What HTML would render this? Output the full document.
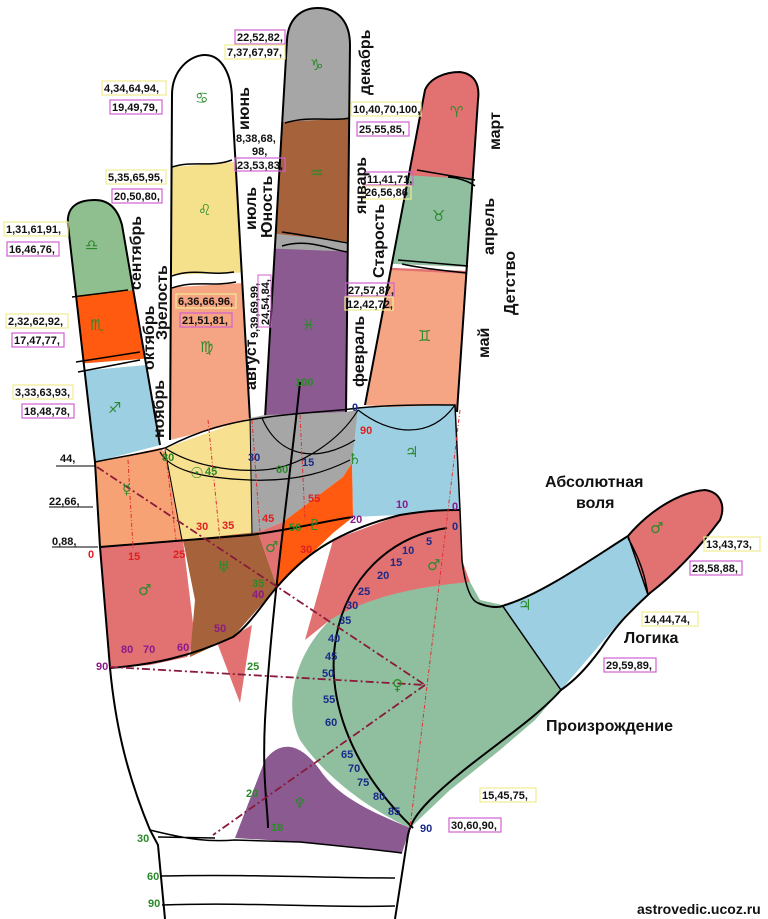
<!DOCTYPE html>
<html><head><meta charset="utf-8"><style>
body{margin:0;background:#fff}
svg{display:block}
text{font-family:"Liberation Sans",sans-serif}
.b{font-weight:bold;font-size:11px;fill:#111}
.m{font-weight:bold;font-size:16px;fill:#111}
text.g{fill:#2a8a2a;font-size:15px;font-family:"DejaVu Sans",sans-serif}
.r{fill:#e02020;font-size:11px;font-weight:bold}
.bl{fill:#1a2a8a;font-size:11px;font-weight:bold}
.pu{fill:#8a1a8a;font-size:11px;font-weight:bold}
.gn{fill:#2a8a2a;font-size:11px;font-weight:bold}
</style></head><body>
<svg width="768" height="919" viewBox="0 0 768 919" xmlns="http://www.w3.org/2000/svg">
<defs>
<clipPath id="cl"><path d="M95,462 L68,225 C66,205 80,200 95,200 C110,200 118,210 122,225 L160,445 Z"/></clipPath>
<clipPath id="cr"><path d="M170,440 L172,95 C172,70 190,55 205,55 C222,55 232,75 232,100 L250,420 Z"/></clipPath>
<clipPath id="cm"><path d="M265,418 L287,40 C288,20 300,8 318,8 C338,8 350,22 350,45 L346,412 Z"/></clipPath>
<clipPath id="ci"><path d="M365,405 L425,90 C430,78 445,72 460,72 C475,74 480,85 478,100 L457,412 Z"/></clipPath>
</defs>
<g clip-path="url(#cl)">
<rect x="50" y="190" width="130" height="300" fill="#8fbf8f"/>
<polygon points="50,298 180,286 180,356 50,366" fill="#ff5a10"/>
<polygon points="50,366 180,356 180,362 50,374" fill="#fff"/>
<polygon points="50,374 180,362 180,470 50,470" fill="#9dcfe2"/>
</g>
<path d="M95,462 L68,225 C66,205 80,200 95,200 C110,200 118,210 122,225 L160,445" fill="none" stroke="#000" stroke-width="2"/>
<path d="M72,297 L128,290 M76,362 L140,352 M78,372 L140,360" stroke="#000" stroke-width="1.5"/>
<g clip-path="url(#cr)">
<rect x="160" y="50" width="100" height="400" fill="#fff"/>
<polygon points="160,168 260,160 260,272 160,275" fill="#f5e08c"/>
<polygon points="160,288 260,282 260,450 160,450" fill="#f6a584"/>
</g>
<path d="M170,440 L172,95 C172,70 190,55 205,55 C222,55 232,75 232,100 L250,420" fill="none" stroke="#000" stroke-width="2"/>
<path d="M172,167 C195,160 210,168 232,160 M172,276 C195,268 210,276 234,272 M172,288 C195,280 210,287 236,282" stroke="#000" stroke-width="1.5" fill="none"/>
<g clip-path="url(#cm)">
<rect x="260" y="0" width="100" height="430" fill="#a6a6a6"/>
<polygon points="260,123 360,118 360,243 260,232" fill="#a6623a"/>
<polygon points="260,248 360,252 360,430 260,430" fill="#8a5a90"/>
</g>
<path d="M265,418 L287,40 C288,20 300,8 318,8 C338,8 350,22 350,45 L346,412" fill="none" stroke="#000" stroke-width="2"/>
<path d="M285,123 C310,115 330,122 350,118 M282,232 C310,236 330,240 348,243 M282,246 C310,238 330,250 348,252" stroke="#000" stroke-width="1.5" fill="none"/>
<g clip-path="url(#ci)">
<rect x="350" y="60" width="140" height="360" fill="#e27272"/>
<polygon points="350,172 490,180 490,268 350,262" fill="#8fbf9f"/>
<polygon points="350,262 490,268 490,272 350,266" fill="#fff"/>
<polygon points="350,268 490,275 490,420 350,420" fill="#f6a584"/>
</g>
<path d="M365,405 L425,90 C430,78 445,72 460,72 C475,74 480,85 478,100 L457,412" fill="none" stroke="#000" stroke-width="2"/>
<path d="M417,170 L475,180 M448,177 C460,178 470,182 475,186 M398,260 L468,266 M402,264 C420,268 440,270 466,273" stroke="#000" stroke-width="1.5" fill="none"/>
<polygon points="95,462 160,448 168,455 182,540 100,547" fill="#f7a274"/>
<polygon points="165,448 250,418 252,535 182,540" fill="#f7e090"/>
<polygon points="250,418 265,415 345,412 358,410 352,463 343,477 283,522 258,532 252,535" fill="#a6a6a6"/>
<polygon points="358,408 455,405 460,510 447,510 400,515 353,517 352,463" fill="#9dcfe2"/>
<polygon points="352,463 353,517 333,533 277,587 283,522 343,477" fill="#ff5a10"/>
<polygon points="333,540 400,515 447,510 460,510 462,560 470,582 330,620 305,640" fill="#e27272"/>
<polygon points="100,547 183,540 195,640 187,657 150,665 110,668" fill="#e27272"/>
<polygon points="183,540 258,532 277,587 233,637 190,657 195,600" fill="#a6623a"/>
<polygon points="258,532 283,522 277,587" fill="#e27272"/>
<polygon points="218,645 240,703 252,625" fill="#e27272"/>
<path d="M330,620 C380,590 440,585 470,582 L480,600 L502,605 L561,690 L535,720 L500,750 L450,790 L410,828 C360,805 320,770 300,740 C285,710 290,660 330,620 Z" fill="#8fbf9f"/>
<path d="M235,838 L265,760 C280,740 300,742 320,770 C340,800 380,815 410,828 L402,853 L300,842 Z" fill="#8a5a90"/>
<path d="M502,605 C540,595 590,560 628,536 L648,595 L628,612 L561,690 Z" fill="#9dcfe2"/>
<path d="M628,536 C650,510 680,492 705,490 C720,492 726,505 720,520 C705,540 680,570 648,595 Z" fill="#e27272"/>
<path d="M478,603 C490,608 500,608 505,605 C540,595 590,560 628,536 C650,510 680,492 705,490 C720,492 726,505 720,520 C705,540 680,570 650,593 C630,612 620,620 600,650 C585,670 575,680 561,690 C530,725 470,760 430,800 C415,815 410,825 408,835 L395,919" fill="none" stroke="#000" stroke-width="2"/>
<path d="M628,536 L648,595 M628,538 C640,560 645,575 648,595 M502,605 L561,690" stroke="#000" stroke-width="1.5" fill="none"/>
<path d="M95,462 L100,547 L110,668 C115,720 125,770 150,830 L158,845 L165,919" fill="none" stroke="#000" stroke-width="2"/>
<path d="M95,462 C130,455 150,452 165,448 M165,448 C200,430 230,422 262,418 M262,418 C300,412 330,412 358,408 M358,408 C400,404 440,405 455,405 L460,510 L462,560 C465,585 470,600 478,603" fill="none" stroke="#000" stroke-width="1.5"/>
<path d="M100,547 L250,535 C290,530 330,520 353,517 M277,587 C300,560 330,533 400,515 C430,510 447,510 460,510" fill="none" stroke="#000" stroke-width="2"/>
<path d="M110,668 C150,665 190,657 233,637 C250,625 265,600 277,587" fill="none" stroke="#000" stroke-width="2"/>
<path d="M165,448 C190,465 230,472 262,470 C300,468 340,440 358,410 M262,418 C280,460 320,462 355,440 M160,452 C170,470 200,478 250,480 C300,482 330,470 350,460 M358,410 C390,435 430,440 455,405" fill="none" stroke="#000" stroke-width="1.2"/>
<path d="M182,540 L165,450 M250,418 L252,535" stroke="#000" stroke-width="1" fill="none"/>
<path d="M150,830 C190,840 210,842 235,840 L300,842 C340,846 380,850 402,853 M158,837 L215,838 M160,876 C250,874 330,878 395,878 M162,905 C250,902 330,908 395,906" fill="none" stroke="#000" stroke-width="1.5"/>
<path d="M447,528 C330,545 280,700 413,828" fill="none" stroke="#000" stroke-width="2"/>
<path d="M300,382 C290,480 272,600 265,720 C262,780 268,810 268,828" fill="none" stroke="#000" stroke-width="2"/>
<g stroke="#8a1a3a" stroke-width="1.8" stroke-dasharray="8,3,2,3" fill="none">
<path d="M97,467 L425,685 M110,667 L425,685 M425,685 L213,835"/>
</g>
<g stroke="#e03030" stroke-width="1" stroke-dasharray="4,2,1,2" fill="none">
<path d="M128,460 L133,548 M165,448 L176,540 M208,420 L220,540 M252,420 L260,532 M300,415 L305,520 M460,410 L410,828"/>
</g>
<text x="85" y="250" class="g">&#x264E;&#xFE0E;</text><text x="90" y="330" class="g">&#x264F;&#xFE0E;</text><text x="108" y="413" class="g">&#x2650;&#xFE0E;</text>
<text x="195" y="103" class="g">&#x264B;&#xFE0E;</text><text x="198" y="215" class="g">&#x264C;&#xFE0E;</text><text x="200" y="352" class="g">&#x264D;&#xFE0E;</text>
<text x="310" y="70" class="g">&#x2651;&#xFE0E;</text><text x="310" y="178" class="g">&#x2652;&#xFE0E;</text><text x="302" y="330" class="g">&#x2653;&#xFE0E;</text>
<text x="450" y="117" class="g">&#x2648;&#xFE0E;</text><text x="432" y="221" class="g">&#x2649;&#xFE0E;</text><text x="418" y="341" class="g">&#x264A;&#xFE0E;</text>
<text x="405" y="457" class="g">&#x2643;</text><text x="348" y="464" class="g">&#x2644;</text><text x="190" y="478" class="g">&#x2609;</text>
<text x="122" y="494" class="g">&#x263F;</text><text x="308" y="530" class="g">&#x2647;</text><text x="265" y="552" class="g">&#x2642;</text>
<text x="138" y="595" class="g">&#x2642;</text><text x="217" y="572" class="g">&#x2645;</text><text x="427" y="570" class="g">&#x2642;</text>
<text x="392" y="690" class="g">&#x2640;</text><text x="293" y="808" class="g">&#x2646;</text><text x="518" y="610" class="g">&#x2643;</text><text x="650" y="533" class="g">&#x2642;</text>
<text x="162" y="461" class="gn">80</text><text x="205" y="475" class="gn">45</text><text x="248" y="461" class="bl">30</text>
<text x="276" y="473" class="gn">60</text><text x="302" y="466" class="bl">15</text><text x="360" y="434" class="r">90</text>
<text x="352" y="411" class="bl">0</text><text x="295" y="386" class="gn">100</text>
<text x="196" y="530" class="r">30</text><text x="222" y="529" class="r">35</text><text x="262" y="522" class="r">45</text><text x="308" y="502" class="r">55</text>
<text x="289" y="531" class="gn">56</text><text x="350" y="523" class="pu">20</text><text x="396" y="508" class="pu">10</text>
<text x="452" y="510" class="pu">0</text><text x="452" y="530" class="bl">0</text><text x="300" y="553" class="r">30</text>
<text x="88" y="558" class="r">0</text><text x="128" y="560" class="r">15</text><text x="173" y="558" class="r">25</text>
<text x="252" y="587" class="gn">35</text><text x="252" y="598" class="pu">40</text><text x="214" y="632" class="pu">50</text>
<text x="177" y="651" class="pu">60</text><text x="143" y="653" class="pu">70</text><text x="121" y="653" class="pu">80</text>
<text x="96" y="670" class="pu">90</text><text x="247" y="670" class="gn">25</text><text x="246" y="797" class="gn">20</text><text x="271" y="831" class="gn">18</text>
<text x="137" y="842" class="gn">30</text><text x="147" y="880" class="gn">60</text><text x="148" y="907" class="gn">90</text>
<text x="426" y="545" class="bl">5</text><text x="402" y="554" class="bl">10</text><text x="390" y="566" class="bl">15</text>
<text x="377" y="579" class="bl">20</text><text x="358" y="595" class="bl">25</text><text x="346" y="609" class="bl">30</text>
<text x="339" y="624" class="bl">35</text><text x="328" y="642" class="bl">40</text><text x="325" y="660" class="bl">45</text>
<text x="322" y="677" class="bl">50</text><text x="323" y="703" class="bl">55</text><text x="325" y="726" class="bl">60</text>
<text x="341" y="758" class="bl">65</text><text x="348" y="772" class="bl">70</text><text x="357" y="786" class="bl">75</text>
<text x="373" y="800" class="bl">80</text><text x="388" y="815" class="bl">85</text><text x="420" y="832" class="bl">90</text>
<text x="60" y="462" class="b">44,</text><line x1="56" y1="466" x2="96" y2="466" stroke="#000"/>
<text x="49" y="505" class="b">22,66,</text><line x1="49" y1="507" x2="93" y2="507" stroke="#000"/>
<text x="52" y="545" class="b">0,88,</text><line x1="52" y1="547" x2="98" y2="547" stroke="#000"/>
<g fill="none" stroke-width="1.2">
<rect x="4" y="222" width="64" height="14" stroke="#f0ec90"/><rect x="7" y="242" width="52" height="14" stroke="#d060d0"/>
<rect x="6" y="314" width="62" height="14" stroke="#f0ec90"/><rect x="12" y="333" width="52" height="14" stroke="#d060d0"/>
<rect x="13" y="385" width="60" height="14" stroke="#f0ec90"/><rect x="22" y="404" width="52" height="14" stroke="#d060d0"/>
<rect x="102" y="81" width="64" height="14" stroke="#f0ec90"/><rect x="110" y="100" width="52" height="14" stroke="#d060d0"/>
<rect x="106" y="170" width="60" height="14" stroke="#f0ec90"/><rect x="112" y="189" width="50" height="14" stroke="#d060d0"/>
<rect x="176" y="294" width="60" height="14" stroke="#f0ec90"/><rect x="180" y="313" width="52" height="14" stroke="#d060d0"/>
<rect x="235" y="30" width="50" height="14" stroke="#d060d0"/><rect x="225" y="45" width="60" height="14" stroke="#f0ec90"/>
<rect x="235" y="158" width="50" height="13" stroke="#d060d0"/>
<rect x="351" y="102" width="70" height="14" stroke="#f0ec90"/><rect x="357" y="122" width="52" height="14" stroke="#d060d0"/>
<rect x="365" y="172" width="48" height="13" stroke="#d060d0"/><rect x="363" y="186" width="48" height="13" stroke="#f0ec90"/>
<rect x="346" y="283" width="48" height="13" stroke="#d060d0"/><rect x="345" y="297" width="48" height="13" stroke="#f0ec90"/>
<rect x="704" y="537" width="56" height="14" stroke="#f0ec90"/><rect x="690" y="561" width="52" height="14" stroke="#d060d0"/>
<rect x="642" y="612" width="56" height="14" stroke="#f0ec90"/><rect x="604" y="658" width="52" height="14" stroke="#d060d0"/>
<rect x="480" y="788" width="56" height="14" stroke="#f0ec90"/><rect x="449" y="818" width="52" height="14" stroke="#d060d0"/>
</g>
<text x="6" y="233" class="b">1,31,61,91,</text><text x="9" y="253" class="b">16,46,76,</text>
<text x="8" y="325" class="b">2,32,62,92,</text><text x="14" y="344" class="b">17,47,77,</text>
<text x="15" y="396" class="b">3,33,63,93,</text><text x="24" y="415" class="b">18,48,78,</text>
<text x="104" y="92" class="b">4,34,64,94,</text><text x="112" y="111" class="b">19,49,79,</text>
<text x="108" y="181" class="b">5,35,65,95,</text><text x="114" y="200" class="b">20,50,80,</text>
<text x="178" y="305" class="b">6,36,66,96,</text><text x="182" y="324" class="b">21,51,81,</text>
<text x="237" y="41" class="b">22,52,82,</text><text x="227" y="56" class="b">7,37,67,97,</text>
<text x="236" y="142" class="b">8,38,68,</text><text x="252" y="155" class="b">98,</text><text x="237" y="169" class="b">23,53,83,</text>
<text x="353" y="113" class="b">10,40,70,100,</text><text x="359" y="133" class="b">25,55,85,</text>
<text x="367" y="183" class="b">11,41,71,</text><text x="365" y="196" class="b">26,56,86</text>
<text x="348" y="294" class="b">27,57,87,</text><text x="347" y="308" class="b">12,42,72,</text>
<text x="706" y="548" class="b">13,43,73,</text><text x="692" y="572" class="b">28,58,88,</text>
<text x="644" y="623" class="b">14,44,74,</text><text x="606" y="669" class="b">29,59,89,</text>
<text x="482" y="799" class="b">15,45,75,</text><text x="451" y="829" class="b">30,60,90,</text>
<text transform="translate(258,338) rotate(-90)" class="b" font-size="10">9,39,69,99,</text>
<rect x="258" y="275" width="13" height="52" fill="none" stroke="#d060d0"/>
<text transform="translate(269,325) rotate(-90)" class="b" font-size="10">24,54,84,</text>
<text transform="translate(141,290) rotate(-90)" class="m">сентябрь</text>
<text transform="translate(154,370) rotate(-90)" class="m">октябрь</text>
<text transform="translate(167,340) rotate(-90)" class="m">Зрелость</text>
<text transform="translate(164,438) rotate(-90)" class="m">ноябрь</text>
<text transform="translate(249,130) rotate(-90)" class="m">июнь</text>
<text transform="translate(256,230) rotate(-90)" class="m">июль</text>
<text transform="translate(272,238) rotate(-90)" class="m">Юность</text>
<text transform="translate(256,390) rotate(-90)" class="m">август</text>
<text transform="translate(370,95) rotate(-90)" class="m">декабрь</text>
<text transform="translate(366,214) rotate(-90)" class="m">январь</text>
<text transform="translate(384,278) rotate(-90)" class="m">Старость</text>
<text transform="translate(364,387) rotate(-90)" class="m">февраль</text>
<text transform="translate(500,150) rotate(-90)" class="m">март</text>
<text transform="translate(494,255) rotate(-90)" class="m">апрель</text>
<text transform="translate(515,315) rotate(-90)" class="m">Детство</text>
<text transform="translate(489,358) rotate(-90)" class="m">май</text>
<text x="545" y="487" class="m">Абсолютная</text><text x="576" y="508" class="m">воля</text>
<text x="624" y="643" class="m">Логика</text><text x="546" y="731" class="m">Произрождение</text>
<text x="637" y="914" font-family="Liberation Serif,serif" font-weight="bold" font-size="14" fill="#111">astrovedic.ucoz.ru</text>
</svg>
</body></html>
